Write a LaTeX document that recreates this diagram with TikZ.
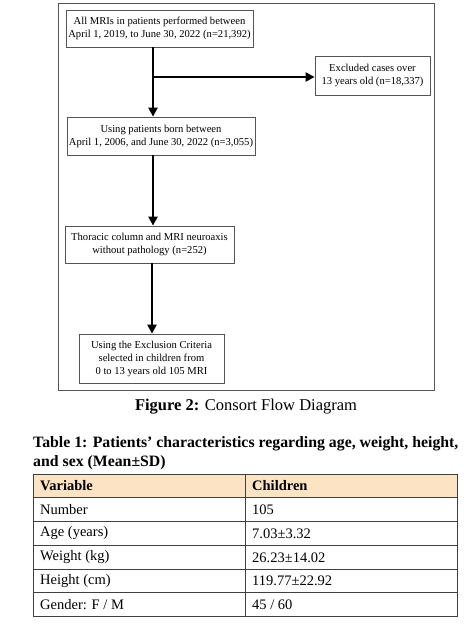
\documentclass[tikz,border=0pt]{standalone}
\usepackage{fontspec}
\setmainfont{Liberation Serif}
\usetikzlibrary{arrows.meta}
\definecolor{hdr}{HTML}{FCE3C3}
\definecolor{boxline}{HTML}{555555}
\begin{document}
\begin{tikzpicture}[x=1pt,y=-1pt,
  flow/.style={draw=boxline,line width=0.8pt,align=center,inner sep=0pt,font=\fontsize{10.6}{13}\selectfont},
  arr/.style={line width=2.8pt,-{Triangle[length=9pt,width=9pt]}},
  cell/.style={anchor=west,inner sep=0pt,font=\fontsize{14.5}{16}\selectfont},
  hcell/.style={cell,font=\fontsize{14.5}{16}\selectfont\bfseries}]
\useasboundingbox (0,0) rectangle (463,626);
\fill[white] (0,0) rectangle (463,626);
% outer frame
\draw[boxline,line width=1pt] (58,4) rectangle (434,390);
% boxes
\node[flow,minimum width=187pt,minimum height=37pt] (b1) at (159.5,28.5) {All MRIs in patients performed between\\April 1, 2019, to June 30, 2022 (n=21,392)};
\node[flow,minimum width=115pt,minimum height=39pt] (ex) at (372.5,75.5) {Excluded cases over\\13 years old (n=18,337)};
\node[flow,minimum width=188pt,minimum height=38pt] (b2) at (161,136) {Using patients born between\\April 1, 2006, and June 30, 2022 (n=3,055)};
\node[flow,minimum width=169pt,minimum height=37pt] (b3) at (149.5,244.5) {Thoracic column and MRI neuroaxis\\without pathology (n=252)};
\node[flow,minimum width=145pt,minimum height=49pt] (b4) at (151.5,358.5) {Using the Exclusion Criteria\\selected in children from\\0 to 13 years old 105 MRI};
% connectors
\coordinate (j) at (153,77);
\draw[arr] (b1.south -| j) -- (b2.north -| j);
\draw[arr] ([xshift=-1.4pt]j) -- (ex.west |- j);
\coordinate (j2) at (153,200);
\draw[arr] (b2.south -| j2) -- (b3.north -| j2);
\coordinate (j3) at (152,300);
\draw[arr] (b3.south -| j3) -- (b4.north -| j3);
% caption
\node[font=\fontsize{16.5}{18}\selectfont] (cap) at (246,407) {\textbf{Figure 2:} Consort Flow Diagram};
% table title
\node[anchor=west,align=left,inner sep=0pt,font=\fontsize{15.8}{19}\selectfont\bfseries] (tt) at (33,453) {Table 1: Patients’ characteristics regarding age, weight, height,\\and sex (Mean±SD)};
% table
\fill[hdr] (33,474) rectangle (457,497);
\draw[black!75,line width=0.9pt] (33,474) rectangle (457,616);
\foreach \yy in {497,521,545,569,592} \draw[black!75,line width=0.9pt] (33,\yy) -- (457,\yy);
\draw[black!75,line width=0.9pt] (245,474) -- (245,616);
\node[hcell] (h1) at (40,486) {Variable};
\node[hcell] (h2) at (252,486) {Children};
\node[cell] (r1a) at (40,509.5) {Number};
\node[cell] (r1b) at (252,509.5) {105};
\node[cell] (r2a) at (40,533.5) {Age (years)};
\node[cell] (r2b) at (252,533.5) {7.03±3.32};
\node[cell] (r3a) at (40,557.5) {Weight (kg)};
\node[cell] (r3b) at (252,557.5) {26.23±14.02};
\node[cell] (r4a) at (40,581) {Height (cm)};
\node[cell] (r4b) at (252,581) {119.77±22.92};
\node[cell] (r5a) at (40,604.5) {Gender: F / M};
\node[cell] (r5b) at (252,604.5) {45 / 60};
\end{tikzpicture}
\end{document}
